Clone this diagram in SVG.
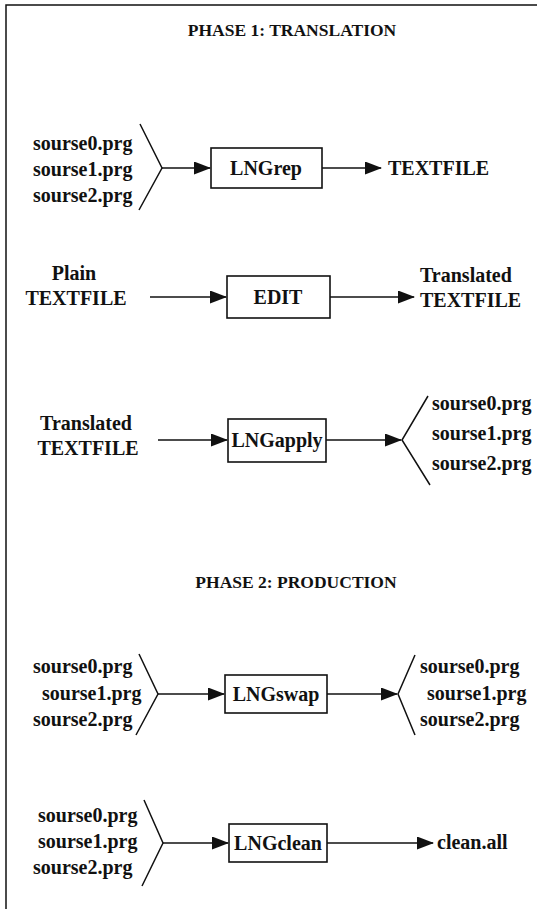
<svg xmlns="http://www.w3.org/2000/svg" width="537" height="909" viewBox="0 0 537 909">
<style>
text{font-family:"Liberation Serif","Times New Roman",serif;font-weight:bold;font-size:20px;fill:#111}
.t{font-size:17.5px}
.box{fill:none;stroke:#111;stroke-width:1.6}
.ln{fill:none;stroke:#111;stroke-width:1.5}
.ar{fill:none;stroke:#111;stroke-width:1.5;marker-end:url(#ah)}
</style>
<defs>
<marker id="ah" markerWidth="17" markerHeight="13" refX="16" refY="6.5" orient="auto" markerUnits="userSpaceOnUse">
<path d="M0,0 L17,6.5 L0,13 Z" fill="#111"/>
</marker>
</defs>
<rect width="537" height="909" fill="#fff"/>
<path class="ln" d="M6,909 V5 H537" stroke-width="2"/>
<text class="t" x="292" y="36" text-anchor="middle">PHASE 1: TRANSLATION</text>
<text class="t" x="296" y="588" text-anchor="middle">PHASE 2: PRODUCTION</text>

<g id="connectors">
<path class="ln" d="M140,124 L162,168 L139,210"/>
<path class="ar" d="M162,168 H210"/>
<path class="ar" d="M322,168 H381"/>
<path class="ar" d="M150,297 H226"/>
<path class="ar" d="M330,297 H414"/>
<path class="ar" d="M158,440 H227"/>
<path class="ar" d="M326,440 H401"/>
<path class="ln" d="M428,396 L402,440 L430,485"/>
<path class="ln" d="M139,654 L158,694 L136,735"/>
<path class="ar" d="M158,694 H224"/>
<path class="ar" d="M327,694 H397"/>
<path class="ln" d="M415,655 L398,694 L415,735"/>
<path class="ln" d="M144,800 L163,843 L142,886"/>
<path class="ar" d="M163,843 H228"/>
<path class="ar" d="M327,843 H433"/>
</g>

<g id="inputs1">
<text x="33" y="150">sourse0.prg</text>
<text x="33" y="176">sourse1.prg</text>
<text x="33" y="202">sourse2.prg</text>
</g>
<g id="LNGrep"><rect class="box" x="211" y="148" width="111" height="40"/><text x="266" y="175" text-anchor="middle">LNGrep</text></g>
<g id="textfile1"><text x="388" y="175">TEXTFILE</text></g>

<g id="plain"><text x="74" y="280" text-anchor="middle">Plain</text><text x="76" y="305" text-anchor="middle">TEXTFILE</text></g>
<g id="EDIT"><rect class="box" x="227" y="276" width="103" height="42"/><text x="278" y="304" text-anchor="middle">EDIT</text></g>
<g id="translated1"><text x="420" y="282">Translated</text><text x="420" y="307">TEXTFILE</text></g>

<g id="translated2"><text x="86" y="430" text-anchor="middle">Translated</text><text x="88" y="455" text-anchor="middle">TEXTFILE</text></g>
<g id="LNGapply"><rect class="box" x="228" y="419" width="98" height="43"/><text x="277" y="447" text-anchor="middle">LNGapply</text></g>
<g id="outputs1">
<text x="432" y="410">sourse0.prg</text>
<text x="432" y="440">sourse1.prg</text>
<text x="432" y="470">sourse2.prg</text>
</g>

<g id="inputs2">
<text x="33" y="673">sourse0.prg</text>
<text x="42" y="700">sourse1.prg</text>
<text x="33" y="726">sourse2.prg</text>
</g>
<g id="LNGswap"><rect class="box" x="225" y="675" width="102" height="38"/><text x="276" y="701" text-anchor="middle">LNGswap</text></g>
<g id="outputs2">
<text x="420" y="673">sourse0.prg</text>
<text x="427" y="700">sourse1.prg</text>
<text x="420" y="726">sourse2.prg</text>
</g>

<g id="inputs3">
<text x="38" y="822">sourse0.prg</text>
<text x="38" y="848">sourse1.prg</text>
<text x="33" y="874">sourse2.prg</text>
</g>
<g id="LNGclean"><rect class="box" x="229" y="824" width="98" height="38"/><text x="278" y="850" text-anchor="middle">LNGclean</text></g>
<g id="cleanall"><text x="437" y="849">clean.all</text></g>
</svg>
